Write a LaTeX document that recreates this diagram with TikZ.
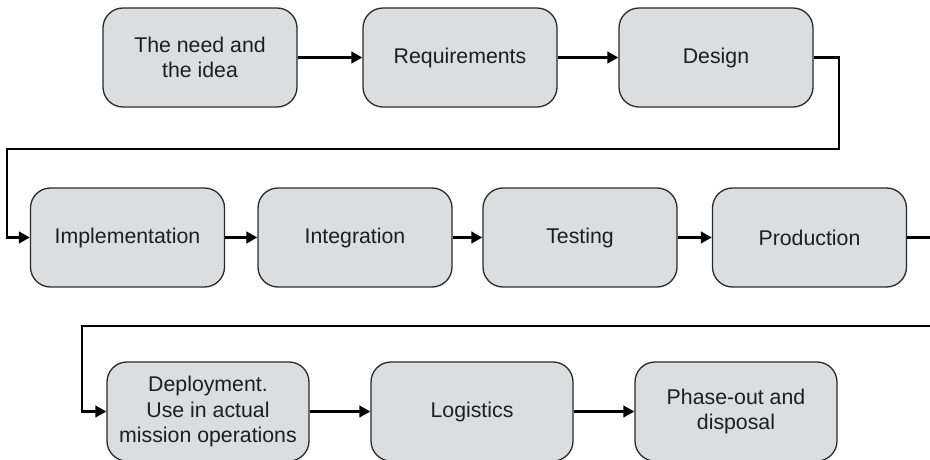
\documentclass[tikz,border=0pt]{standalone}
\usepackage{fontspec}
\setmainfont{Liberation Sans}
\usetikzlibrary{arrows.meta}
\definecolor{boxfill}{HTML}{DCDDDF}
\definecolor{boxline}{HTML}{2A2A2A}
\definecolor{inktext}{HTML}{1E1E1E}
\begin{document}
\begin{tikzpicture}[x=1pt,y=-1pt,
  stage/.style={draw=boxline, line width=1.3pt, fill=boxfill, rounded corners=20pt,
    minimum width=194pt, minimum height=99pt, align=center, text=inktext,
    font=\fontsize{21.3}{25.5}\selectfont, inner sep=2pt},
  widestage/.style={stage, minimum width=202pt},
  flow/.style={line width=2.8pt, line join=miter, -{Triangle[length=11pt,width=11.5pt]}},
  flowline/.style={line width=2.8pt, line join=miter}]
\useasboundingbox (0,0) rectangle (930,460);

% first row
\node[stage] (need) at (200,57.5) {The need and\\the idea};
\node[stage] (req)  at (460,57.5) {Requirements};
\node[stage] (des)  at (716,57.5) {Design};

% second row
\node[stage] (impl) at (127.5,237.5) {Implementation};
\node[stage] (intg) at (355,237.5) {Integration};
\node[stage] (test) at (580,237.5) {Testing};
\node[stage] (prod) at (809.5,237.5) {Production};

% third row
\node[widestage] (depl) at (208,411.5) {Deployment.\\Use in actual\\mission operations};
\node[widestage] (logi) at (472,411.5) {Logistics};
\node[widestage] (phase) at (736,411.5) {Phase-out and\\disposal};

% loose ends at the right margin
\coordinate (prodout) at (930,237.5);
\coordinate (deplin) at (930,326);

\draw[flow] (need) -- (req);
\draw[flow] (req) -- (des);
\draw[flow] (des.east) -- (839,57.5) -- (839,149) -- (7,149) -- (7,237.5) -- (impl.west);
\draw[flow] (impl) -- (intg);
\draw[flow] (intg) -- (test);
\draw[flow] (test) -- (prod);
\draw[flowline] (prod.east) -- (prodout);
\draw[flow] (deplin) -- (82,326) -- (82,411.5) -- (depl.west);
\draw[flow] (depl) -- (logi);
\draw[flow] (logi) -- (phase);
\end{tikzpicture}
\end{document}
